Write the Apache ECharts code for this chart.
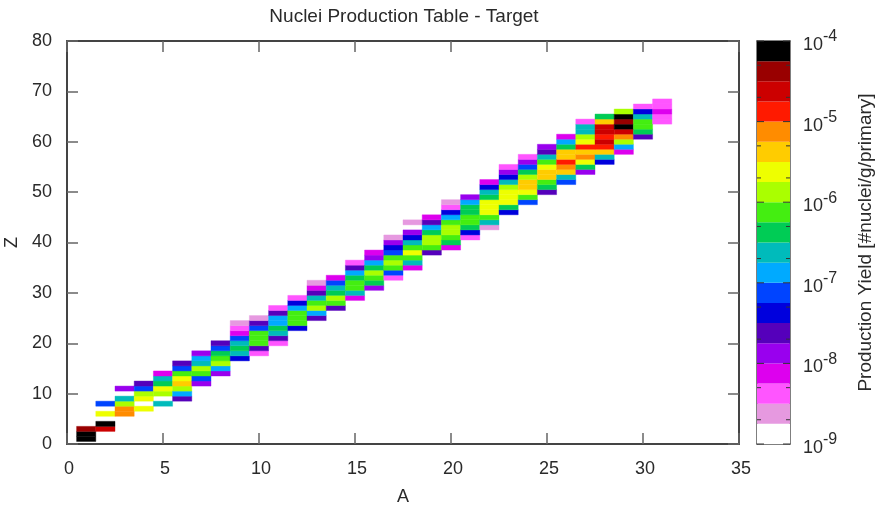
<!DOCTYPE html>
<html><head><meta charset="utf-8">
<style>html,body{margin:0;padding:0;background:#fff}#c{width:884px;height:513px}</style>
<script src="https://cdn.jsdelivr.net/npm/echarts@6/dist/echarts.min.js"></script>
</head><body><div id="c"></div>
<script>
// Colour band of each cell: 0 = white (1e-9) ... 19 = black (1e-4); quarter-decade bands
const bandColors = ['#ffffff','#e699e0','#ff55ff','#dd00ee','#9900ee','#5500bb','#0000dd','#0044ff','#00aaff','#00bbbb','#00cc55','#44ee11','#aaff00','#eeff00','#ffcc00','#ff8c00','#ff1a00','#cc0000','#990000','#000000'];
const massNumbers = [1,2,3,4,5,6,7,8,9,10,11,12,13,14,15,16,17,18,19,20,21,22,23,24,25,26,27,28,29,30,31];
const firstZ = [1,3,6,7,8,9,12,14,17,18,20,23,25,27,29,31,33,35,38,39,41,43,46,48,50,52,54,56,58,61,64];
const bandsByA = [
 [19,19,18],
 [17,19,0,13,0,7],
 [15,15,12,9,0,4],
 [13,0,13,12,7,5],
 [9,0,12,13,10,9,3],
 [5,8,12,14,13,11,7,5],
 [4,7,11,12,9,8,4],
 [4,8,12,11,10,7,5],
 [6,9,10,9,7,3,2,1],
 [2,5,11,11,11,7,5,1],
 [2,5,9,10,8,8,5,2],
 [6,11,11,11,8,6,2],
 [5,8,12,11,9,5,3,1],
 [5,11,12,10,9,7,3],
 [3,9,11,11,10,8,5,2],
 [4,10,11,12,10,8,4,3],
 [2,7,11,12,11,7,6,4,1],
 [3,9,11,13,11,9,6,4,0,1],
 [5,11,12,12,10,8,5,3],
 [3,10,11,12,12,11,8,6,2,1],
 [2,6,10,11,11,10,10,8,4],
 [1,9,11,13,13,13,10,9,6,3],
 [6,10,13,13,13,12,9,6,4,2],
 [7,11,13,14,14,12,10,7,4,2],
 [5,10,11,14,14,13,11,9,5,4],
 [7,9,14,15,16,14,14,10,8,3],
 [4,10,13,15,14,16,13,12,9,9,2],
 [6,9,14,16,17,16,17,17,14,10],
 [3,8,12,15,17,19,18,19,12],
 [5,10,11,11,9,6,2],
 [2,2,3,2,2]
];
const cbarTickLabels = ['-9','-8','-7','-6','-5','-4'];
const cbarMajor = [1e-9,1e-8,1e-7,1e-6,1e-5,1e-4];
const cbarMinor = [2e-9,5e-9,2e-8,5e-8,2e-7,5e-7,2e-6,5e-6,2e-5,5e-5];
const FONT = '"Liberation Sans", Arial, sans-serif';
const AXC = '#444444';
const TXT = '#2a2a2a';

const cells = [];
massNumbers.forEach((a,i)=>bandsByA[i].forEach((b,k)=>{ if(b>0) cells.push([a, firstZ[i]+k, b]); }));
const bands = bandColors.map((c,i)=>[Math.pow(10,-9+i*0.25), Math.pow(10,-9+(i+1)*0.25), i]);

const tick = {inside:true,length:11,lineStyle:{color:'#666',width:1.5}};
const chart = echarts.init(document.getElementById('c'));
chart.setOption({
  animation:false,
  backgroundColor:'#fff',
  title:{text:'Nuclei Production Table - Target',left:399,top:2,textAlign:'center',
    textStyle:{fontFamily:FONT,fontSize:19,fontWeight:'normal',color:TXT}},
  grid:[
    {left:67,top:41,width:672,height:403,show:false,outerBoundsMode:'none'},
    {left:757,top:41,width:33,height:403,show:false,outerBoundsMode:'none'}
  ],
  xAxis:[
    {gridIndex:0,type:'value',min:0,max:35,interval:5,name:'A',nameLocation:'middle',nameGap:44,
     nameTextStyle:{fontFamily:FONT,fontSize:18,color:TXT},
     axisLine:{onZero:false,lineStyle:{color:AXC,width:2}},
     axisTick:tick,
     axisLabel:{fontFamily:FONT,fontSize:18,color:TXT,margin:16,padding:[0,0,0,4],hideOverlap:false},splitLine:{show:false}},
    {gridIndex:0,type:'value',min:0,max:35,interval:5,position:'top',axisLine:{show:true,onZero:false,lineStyle:{color:AXC,width:2}},
     axisTick:tick,axisLabel:{show:false},splitLine:{show:false}},
    {gridIndex:1,type:'value',min:0,max:1,axisLine:{show:true,onZero:false,lineStyle:{color:'#555',width:1.5}},axisTick:{show:false},axisLabel:{show:false},splitLine:{show:false}},
    {gridIndex:1,type:'value',min:0,max:1,position:'top',axisLine:{show:true,onZero:false,lineStyle:{color:'#555',width:1.5}},axisTick:{show:false},axisLabel:{show:false},splitLine:{show:false}}
  ],
  yAxis:[
    {gridIndex:0,type:'value',min:0,max:80,interval:10,name:'Z',nameLocation:'middle',nameGap:44,
     nameTextStyle:{fontFamily:FONT,fontSize:18,color:TXT},
     axisLine:{onZero:false,lineStyle:{color:AXC,width:2}},
     axisTick:tick,
     axisLabel:{fontFamily:FONT,fontSize:18,color:TXT,margin:15,padding:[2,0,0,0]},splitLine:{show:false}},
    {gridIndex:0,type:'value',min:0,max:80,interval:10,position:'right',axisLine:{show:true,onZero:false,lineStyle:{color:AXC,width:2}},
     axisTick:tick,axisLabel:{show:false},splitLine:{show:false}},
    {gridIndex:1,type:'log',logBase:10,min:1e-9,max:1e-4,position:'right',
     name:'Production Yield [#nuclei/g/primary]',nameLocation:'middle',nameGap:66,nameRotate:90,
     nameTextStyle:{fontFamily:FONT,fontSize:19,color:TXT},
     axisLine:{show:true,onZero:false,lineStyle:{color:'#555',width:1.5}},axisTick:{show:false},splitLine:{show:false},minorTick:{show:false},
     axisLabel:{margin:13,fontFamily:FONT,formatter:v=>{
        const i=cbarMajor.findIndex(m=>Math.abs(Math.log10(m)-Math.log10(v))<1e-6);
        return i<0?'':`{a|10}{b|${cbarTickLabels[i]}}`;},
        rich:{a:{fontFamily:FONT,fontSize:18,color:TXT,padding:[8,0,0,0]},b:{fontFamily:FONT,fontSize:16,color:TXT,padding:[0,0,8,0]}}}},
    {gridIndex:1,type:'log',logBase:10,min:1e-9,max:1e-4,position:'left',axisLine:{show:true,onZero:false,lineStyle:{color:'#555',width:1.5}},axisTick:{show:false},axisLabel:{show:false},splitLine:{show:false}}
  ],
  series:[
    {type:'custom',xAxisIndex:0,yAxisIndex:0,data:cells,silent:true,clip:true,z:1,
     encode:{x:0,y:1},
     renderItem:(p,api)=>{
       const a=api.value(0),z=api.value(1),b=api.value(2);
       const p0=api.coord([a-0.5,z+0.5]),p1=api.coord([a+0.5,z-0.5]);
       return {type:'rect',shape:{x:p0[0],y:p0[1],width:p1[0]-p0[0],height:p1[1]-p0[1]},
               style:{fill:bandColors[b],stroke:bandColors[b],lineWidth:0.4}};
     }},
    {type:'custom',xAxisIndex:2,yAxisIndex:2,data:bands,silent:true,z:1,
     encode:{y:[0,1]},
     renderItem:(p,api)=>{
       const p0=api.coord([0,api.value(1)]),p1=api.coord([1,api.value(0)]);
       const b=api.value(2);
       return {type:'rect',shape:{x:p0[0],y:p0[1],width:p1[0]-p0[0],height:p1[1]-p0[1]},style:{fill:bandColors[b]}};
     }},
    {type:'custom',xAxisIndex:2,yAxisIndex:2,silent:true,z:3,
     data:cbarMajor.map(v=>[v,7]).concat(cbarMinor.map(v=>[v,4])),
     encode:{y:0},
     renderItem:(p,api)=>{
       const l=api.coord([0,api.value(0)]),r=api.coord([1,api.value(0)]),n=api.value(1);
       return {type:'group',children:[
         {type:'line',shape:{x1:l[0],y1:l[1],x2:l[0]+n,y2:l[1]},style:{stroke:'#333',lineWidth:1}},
         {type:'line',shape:{x1:r[0]-n,y1:r[1],x2:r[0],y2:r[1]},style:{stroke:'#333',lineWidth:1}}
       ]};
     }}
  ]
});
</script></body></html>
